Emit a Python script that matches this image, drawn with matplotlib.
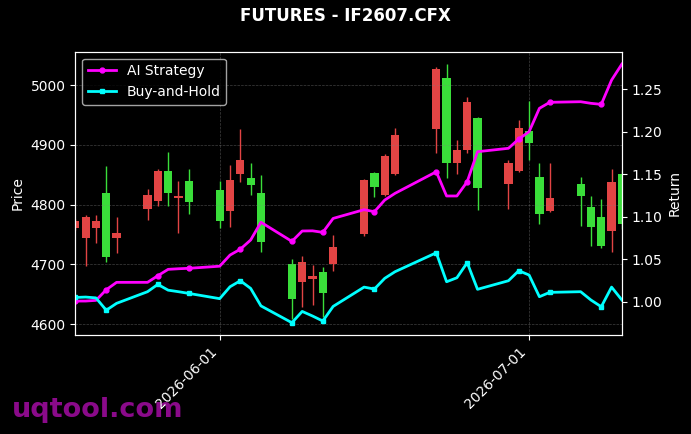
import numpy as np
import pandas as pd
import matplotlib
matplotlib.use("Agg")
import matplotlib.pyplot as plt
import matplotlib.dates as mdates

## Data
dates = pd.to_datetime([
    "2026-05-18", "2026-05-19", "2026-05-20", "2026-05-21", "2026-05-22",
    "2026-05-25", "2026-05-26", "2026-05-27", "2026-05-28", "2026-05-29",
    "2026-06-01", "2026-06-02", "2026-06-03", "2026-06-04", "2026-06-05",
    "2026-06-08", "2026-06-09", "2026-06-10", "2026-06-11", "2026-06-12",
    "2026-06-15", "2026-06-16", "2026-06-17", "2026-06-18",
    "2026-06-22", "2026-06-23", "2026-06-24", "2026-06-25", "2026-06-26",
    "2026-06-29", "2026-06-30", "2026-07-01", "2026-07-02", "2026-07-03",
    "2026-07-06", "2026-07-07", "2026-07-08", "2026-07-09", "2026-07-10",
])

opens = [4772, 4779, 4772, 4713, 4752, 4816, 4857, 4819, 4815, 4804,
         4773, 4841, 4874, 4833, 4737, 4642, 4704, 4680, 4652, 4729,
         4841, 4829, 4882, 4917, 5027, 4870, 4891, 4972, 4828,
         4870, 4928, 4904, 4785, 4812, 4814, 4763, 4731, 4838, 4768]
closes = [4761, 4744, 4761, 4819, 4744, 4792, 4806, 4857, 4812, 4839,
          4824, 4789, 4852, 4845, 4820, 4701, 4671, 4676, 4687, 4700,
          4751, 4853, 4816, 4852, 4927, 5012, 4869, 4892, 4945,
          4834, 4857, 4924, 4847, 4789, 4835, 4797, 4780, 4756, 4851]
highs = [4776, 4783, 4783, 4864, 4779, 4827, 4860, 4888, 4839, 4859,
         4839, 4867, 4926, 4869, 4849, 4709, 4715, 4699, 4696, 4750,
         4843, 4855, 4884, 4929, 5031, 5036, 4909, 4980, 4946,
         4874, 4941, 4974, 4870, 4869, 4847, 4814, 4809, 4860, 4858]
lows = [4758, 4698, 4736, 4704, 4720, 4774, 4798, 4798, 4753, 4785,
        4761, 4763, 4838, 4816, 4721, 4609, 4629, 4633, 4613, 4689,
        4748, 4813, 4814, 4850, 4887, 4845, 4852, 4887, 4791,
        4792, 4855, 4874, 4768, 4787, 4764, 4731, 4728, 4721, 4760]

ai_strategy = [1.0008, 1.0008, 1.0016, 1.0141, 1.0228, 1.0228, 1.0306, 1.0381, 1.0388, 1.0393,
               1.0418, 1.0549, 1.0618, 1.0726, 1.0935, 1.0710, 1.0832, 1.0834, 1.0816, 1.0980,
               1.1083, 1.1059, 1.1196, 1.1275, 1.1529, 1.1244, 1.1244, 1.1412, 1.1765,
               1.1805, 1.1914, 1.2000, 1.2275, 1.2346, 1.2353, 1.2334, 1.2322, 1.2608, 1.2796]
buy_hold = [1.0050, 1.0055, 1.0045, 0.9900, 0.9981, 1.0118, 1.0204, 1.0136, 1.0118, 1.0098,
            1.0036, 1.0176, 1.0247, 1.0157, 0.9951, 0.9753, 0.9886, 0.9832, 0.9773, 0.9945,
            1.0172, 1.0149, 1.0275, 1.0353, 1.0576, 1.0235, 1.0282, 1.0459, 1.0146,
            1.0247, 1.0365, 1.0314, 1.0059, 1.0110, 1.0118, 1.0020, 0.9941, 1.0172, 1.0020]

title = "FUTURES - IF2607.CFX"

## Plot
plt.style.use("dark_background")
fig = plt.figure(figsize=(6.91, 4.34), dpi=100)
ax = fig.add_axes([0.109, 0.228, 0.791, 0.653])
ax2 = ax.twinx()

opens = np.array(opens)
closes = np.array(closes)
up = closes >= opens
col_up = "#3ade3a"
col_dn = "#e24444"
colors = np.where(up, col_up, col_dn)

# wicks
ax.vlines(dates, lows, highs, colors=colors, linewidth=1.0)
# bodies (min height so dojis still show)
body = np.abs(closes - opens)
body = np.where(body < 2, 2, body)
ax.bar(dates, body, bottom=np.minimum(opens, closes), width=0.8,
       color=colors, edgecolor=colors, linewidth=0)

ax2.plot(dates, ai_strategy, color="#ff00ff", lw=2, marker="o", markersize=3.5,
         markevery=3, label="AI Strategy")
ax2.plot(dates, buy_hold, color="#00ffff", lw=2, marker="s", markersize=3.5,
         markevery=3, label="Buy-and-Hold")

ax.set_xlim(pd.Timestamp("2026-05-18"), pd.Timestamp("2026-07-10"))
ax.set_ylim(4582, 5056)
ax2.set_ylim(0.9608, 1.2942)

ax.xaxis.set_major_locator(mdates.MonthLocator())
ax.xaxis.set_major_formatter(mdates.DateFormatter("%Y-%m-%d"))
plt.setp(ax.get_xticklabels(), rotation=45, ha="right")

ax.set_ylabel("Price")
ax2.set_ylabel("Return")
ax.grid(True, linestyle="--", linewidth=0.5, color="gray", alpha=0.5)

leg = ax2.legend(loc="upper left", facecolor="black", edgecolor="#cccccc")

fig.suptitle(title, fontweight="bold", color="white", y=0.985)

# watermark
fig.text(0.017, 0.039, "uqtool.com", color="#8a0a8a", fontsize=19.5,
         fontweight="bold", zorder=-1)

fig.savefig("out.png", dpi=100, facecolor="black")
